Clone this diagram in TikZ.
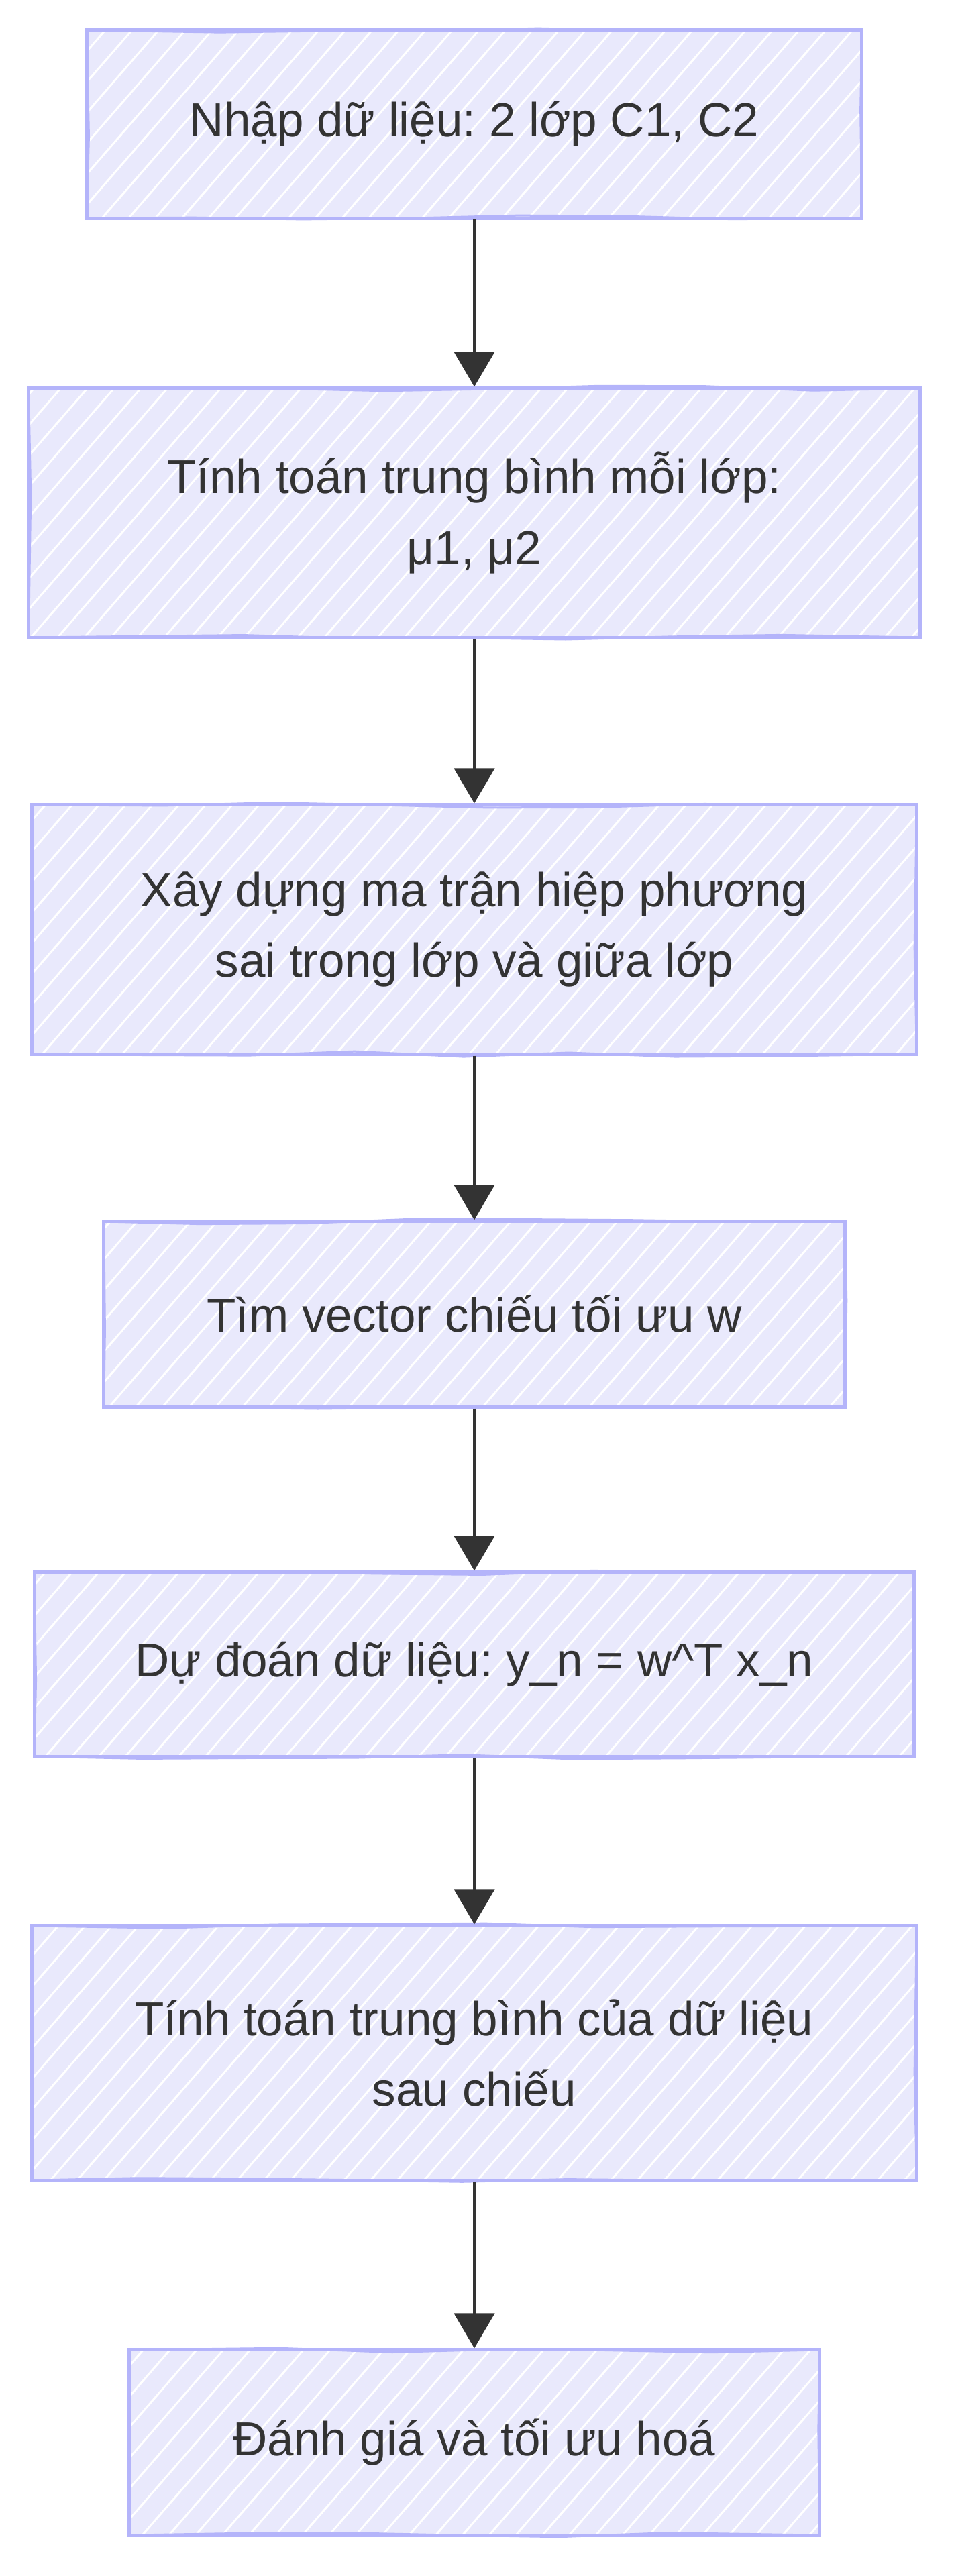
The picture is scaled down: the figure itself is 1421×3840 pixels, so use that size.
\documentclass[tikz,border=0pt]{standalone}
\usepackage{fontspec}
\setmainfont{Liberation Sans}
\usetikzlibrary{arrows.meta,patterns.meta,decorations.pathmorphing}
\definecolor{boxfill}{HTML}{E9E9FC}
\definecolor{boxline}{HTML}{B4B4FA}
\definecolor{ink}{HTML}{333333}
\tikzset{
  stepbox/.style={rectangle, draw=boxline, line width=0.05cm,
    preaction={fill=boxfill},
    pattern={Lines[angle=49, distance=0.3cm, line width=0.03cm]}, pattern color=white,
    text=ink, align=center, inner sep=0pt,
    font=\fontsize{20.2pt}{29.9pt}\selectfont,
    postaction={draw=boxline, line width=0.03cm, decorate,
      decoration={random steps, segment length=1.6cm, amplitude=0.04cm}}},
  flow/.style={draw=ink, line width=0.045cm, -{Triangle[width=0.6cm, length=0.52cm]}}
}
\frenchspacing
\begin{document}
\begin{tikzpicture}[x=0.01cm, y=-0.01cm]
            \pgfmathsetseed{7}
            \useasboundingbox (0, 0) rectangle (1421, 3840);

            \node[stepbox, minimum width=11.55cm, minimum height=2.80cm] (input) at (707, 185)
                {Nhập dữ liệu: 2 lớp C1, C2};
            \node[stepbox, minimum width=13.28cm, minimum height=3.71cm] (means) at (707, 764.5)
                {Tính toán trung bình mỗi lớp:\\ μ1, μ2};
            \node[stepbox, minimum width=13.18cm, minimum height=3.71cm] (scatter) at (707, 1385.5)
                {Xây dựng ma trận hiệp phương\\ sai trong lớp và giữa lớp};
            \node[stepbox, minimum width=11.04cm, minimum height=2.76cm] (proj) at (707, 1959)
                {Tìm vector chiếu tối ưu w};
            \node[stepbox, minimum width=13.11cm, minimum height=2.74cm] (predict) at (707, 2481)
                {Dự đoán dữ liệu: y\_n = w\^{}T x\_n};
            \node[stepbox, minimum width=13.18cm, minimum height=3.79cm] (projmean) at (707, 3060.5)
                {Tính toán trung bình của dữ liệu\\ sau chiếu};
            \node[stepbox, minimum width=10.29cm, minimum height=2.76cm] (evaluate) at (707, 3641)
                {Đánh giá và tối ưu hoá};

            \draw[flow] (input.south) -- (means.north);
            \draw[flow] (means.south) -- (scatter.north);
            \draw[flow] (scatter.south) -- (proj.north);
            \draw[flow] (proj.south) -- (predict.north);
            \draw[flow] (predict.south) -- (projmean.north);
            \draw[flow] (projmean.south) -- (evaluate.north);
        \end{tikzpicture}
\end{document}
